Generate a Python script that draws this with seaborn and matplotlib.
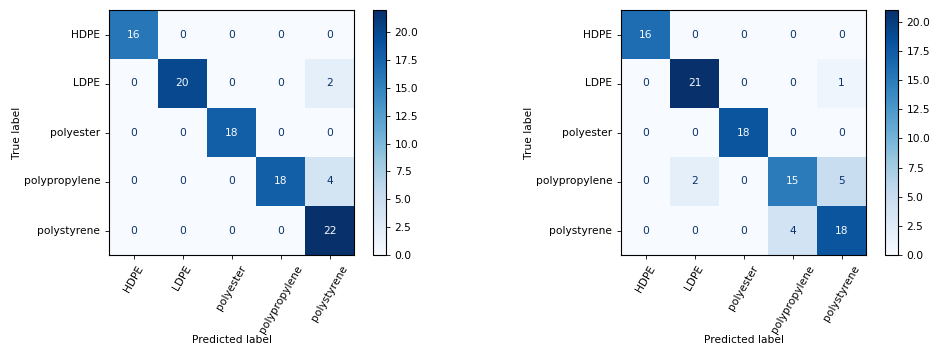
import numpy as np
import matplotlib
matplotlib.use("Agg")
import matplotlib.pyplot as plt
from matplotlib.ticker import MultipleLocator, FormatStrFormatter
import seaborn as sns

# class names and confusion matrices of the two models
labels = ["HDPE", "LDPE", "polyester", "polypropylene", "polystyrene"]

cm_left = [
    [16, 0, 0, 0, 0],
    [0, 20, 0, 0, 2],
    [0, 0, 18, 0, 0],
    [0, 0, 0, 18, 4],
    [0, 0, 0, 0, 22],
]
cm_right = [
    [16, 0, 0, 0, 0],
    [0, 21, 0, 0, 1],
    [0, 0, 18, 0, 0],
    [0, 2, 0, 15, 5],
    [0, 0, 0, 4, 18],
]

FS = 7.7
fig = plt.figure(figsize=(9.34, 3.47), dpi=100)
cmap = plt.get_cmap("Blues")


def draw_cm(cm, ax_rect, cbar_rect):
    cm = np.array(cm)
    ax = fig.add_axes(ax_rect)
    cax = fig.add_axes(cbar_rect)
    sns.heatmap(cm, ax=ax, cbar_ax=cax, cmap="Blues", vmin=0, vmax=cm.max(),
                annot=True, fmt="d", square=False, linewidths=0,
                xticklabels=labels, yticklabels=labels)
    # sklearn-style text colours: light on dark cells, dark on light cells
    thresh = cm.max() / 2.0
    for t, v in zip(ax.texts, cm.flatten()):
        t.set_color(cmap(0.0) if v >= thresh else cmap(1.0))
        t.set_fontsize(FS)
    for s in ax.spines.values():
        s.set_visible(True)
        s.set_color("black")
        s.set_linewidth(0.8)
    ax.tick_params(left=True, bottom=True, length=2.7, width=0.6, labelsize=FS)
    plt.setp(ax.get_xticklabels(), rotation=60, ha="center")
    plt.setp(ax.get_yticklabels(), rotation=0)
    ax.set_xlabel("Predicted label", fontsize=FS)
    ax.set_ylabel("True label", fontsize=FS)
    ax.xaxis.set_label_coords(0.5, -0.326)
    ax.yaxis.set_label_coords(-0.355, 0.5)
    cax.yaxis.set_major_locator(MultipleLocator(2.5))
    cax.yaxis.set_major_formatter(FormatStrFormatter("%.1f"))
    cax.tick_params(labelsize=FS, length=2.7, width=0.6)
    cb = ax.collections[0].colorbar
    cb.outline.set_visible(True)
    cb.outline.set_linewidth(0.8)
    cb.outline.set_edgecolor("black")
    return ax


draw_cm(cm_left, [109 / 934, 92 / 347, 245 / 934, 245 / 347],
        [373 / 934, 92 / 347, 13 / 934, 245 / 347])
draw_cm(cm_right, [621 / 934, 92 / 347, 245 / 934, 245 / 347],
        [885 / 934, 92 / 347, 13 / 934, 245 / 347])

fig.savefig("out.png", dpi=100)
